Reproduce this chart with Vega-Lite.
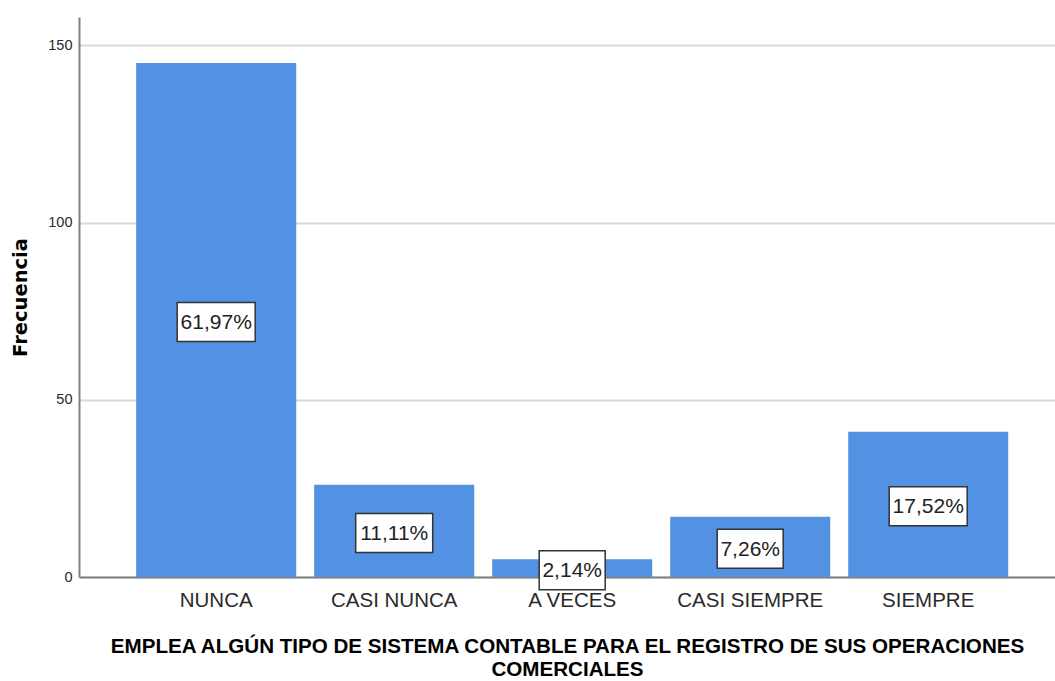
{
  "$schema": "https://vega.github.io/schema/vega-lite/v6.json",
  "width": 976,
  "height": 560,
  "autosize": {"type": "none"},
  "padding": {"left": 79, "top": 17, "right": 0, "bottom": 104},
  "background": "white",
  "config": {"view": {"stroke": null}},
  "data": {
    "values": [
      {"cat": "NUNCA", "n": 145, "pct": "61,97%"},
      {"cat": "CASI NUNCA", "n": 26, "pct": "11,11%"},
      {"cat": "A VECES", "n": 5, "pct": "2,14%"},
      {"cat": "CASI SIEMPRE", "n": 17, "pct": "7,26%"},
      {"cat": "SIEMPRE", "n": 41, "pct": "17,52%"}
    ]
  },
  "encoding": {
    "x": {
      "field": "cat",
      "type": "nominal",
      "sort": null,
      "scale": {"paddingInner": 0.101, "paddingOuter": 0.292, "align": 0.55},
      "axis": {
        "title": ["EMPLEA ALGÚN TIPO DE SISTEMA CONTABLE PARA EL REGISTRO DE SUS OPERACIONES", "COMERCIALES"],
        "titleFont": "Liberation Sans",
        "titleFontSize": 20.6,
        "titleFontWeight": "bold",
        "titleColor": "#000000",
        "titleLineHeight": 23,
        "titlePadding": 26,
        "labelFont": "Liberation Sans",
        "labelFontSize": 20.5,
        "labelColor": "#2a2a2a",
        "labelAngle": 0,
        "labelPadding": 13,
        "ticks": false,
        "domainColor": "#808080",
        "domainWidth": 2,
        "grid": false
      }
    }
  },
  "layer": [
    {
      "mark": {"type": "bar", "color": "#5392E2"},
      "encoding": {
        "y": {
          "field": "n",
          "type": "quantitative",
          "scale": {"domain": [0, 158], "nice": false},
          "axis": {
            "title": "Frecuencia",
            "titleFont": "DejaVu Sans",
            "titleFontSize": 19.5,
            "titleFontWeight": "bold",
            "titleColor": "#000000",
            "titlePadding": 17,
            "values": [0, 50, 100, 150],
            "labelFont": "Liberation Sans",
            "labelFontSize": 14.5,
            "labelColor": "#2a2a2a",
            "labelPadding": 7,
            "ticks": false,
            "domainColor": "#808080",
            "domainWidth": 2,
            "grid": true,
            "gridColor": "#d9d9d9",
            "gridWidth": 2
          }
        }
      }
    },
    {
      "mark": {"type": "point", "filled": true, "fill": "white", "stroke": "#333333", "strokeWidth": 1.5, "opacity": 1, "size": 6400},
      "encoding": {
        "y": {"field": "n", "type": "quantitative", "scale": {"domain": [0, 316], "nice": false}, "axis": null},
        "yOffset": {"value": 2},
        "shape": {
          "field": "cat",
          "type": "nominal",
          "legend": null,
          "scale": {
            "domain": ["NUNCA", "CASI NUNCA", "A VECES", "CASI SIEMPRE", "SIEMPRE"],
            "range": [
              "M-0.975,-0.4875L0.975,-0.4875L0.975,0.4875L-0.975,0.4875Z",
              "M-0.9625,-0.4875L0.9625,-0.4875L0.9625,0.4875L-0.9625,0.4875Z",
              "M-0.825,-0.4875L0.825,-0.4875L0.825,0.4875L-0.825,0.4875Z",
              "M-0.825,-0.4875L0.825,-0.4875L0.825,0.4875L-0.825,0.4875Z",
              "M-0.975,-0.4875L0.975,-0.4875L0.975,0.4875L-0.975,0.4875Z"
            ]
          }
        }
      }
    },
    {
      "mark": {"type": "text", "font": "Liberation Sans", "fontSize": 21, "color": "#222222", "baseline": "middle", "align": "center", "dy": 3},
      "encoding": {
        "y": {"field": "n", "type": "quantitative", "scale": {"domain": [0, 316], "nice": false}, "axis": null},
        "text": {"field": "pct", "type": "nominal"}
      }
    }
  ],
  "resolve": {"scale": {"y": "independent"}}
}
